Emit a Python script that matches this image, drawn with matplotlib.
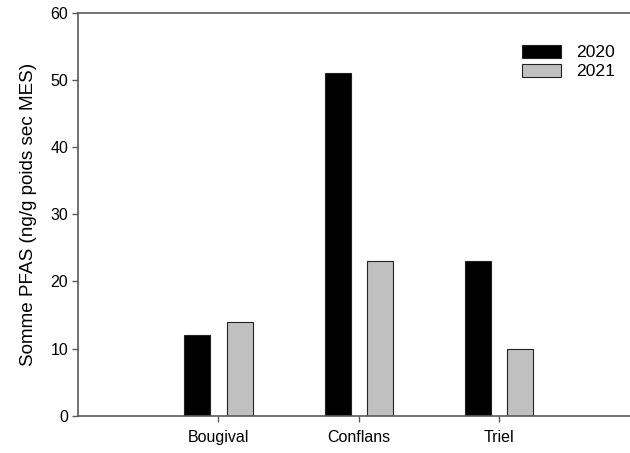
import numpy as np
import matplotlib
matplotlib.use("Agg")
import matplotlib.pyplot as plt

# PFAS totals per site (ng/g dry weight of suspended matter)
sites = ["Bougival", "Conflans", "Triel"]
years = ["2020", "2021"]
pfas_2020 = [12, 51, 23]
pfas_2021 = [14, 23, 10]

plt.rcParams["font.family"] = ["Liberation Sans", "DejaVu Sans"]

fig = plt.figure(figsize=(6.3, 4.53), dpi=100)
ax = fig.add_axes([78 / 630, 1 - 415.7 / 453, 1 - 78 / 630, (415.7 - 13) / 453])

x = np.arange(1, len(sites) + 1)
w = 0.185
off = 0.15
ax.bar(x - off, pfas_2020, w, color="black", edgecolor="#222222", linewidth=0.8, label=years[0])
ax.bar(x + off, pfas_2021, w, color="#c0c0c0", edgecolor="#222222", linewidth=0.8, label=years[1])

ax.set_xlim(0, 3.93)
ax.set_ylim(0, 60)
ax.set_yticks(range(0, 61, 10))
ax.set_xticks(x)
ax.set_xticklabels(sites)

spine_col = "#5a5a5a"
for side in ["left", "top", "bottom"]:
    ax.spines[side].set_color(spine_col)
    ax.spines[side].set_linewidth(1.2)
ax.spines["right"].set_visible(False)
ax.tick_params(axis="y", direction="out", length=4, width=1, color=spine_col, labelsize=11.5, pad=3)
ax.tick_params(axis="x", direction="out", length=4, width=1, color=spine_col, labelsize=11.5, pad=6)

ax.set_ylabel("Somme PFAS (ng/g poids sec MES)", fontsize=13.6, labelpad=10)

leg = ax.legend(loc="upper right", bbox_to_anchor=(0.985, 0.938), frameon=False,
                fontsize=12.6, handlelength=2.2, handleheight=0.75, labelspacing=0.2,
                handletextpad=0.85, borderaxespad=0)

fig.savefig("out.png", dpi=100)
